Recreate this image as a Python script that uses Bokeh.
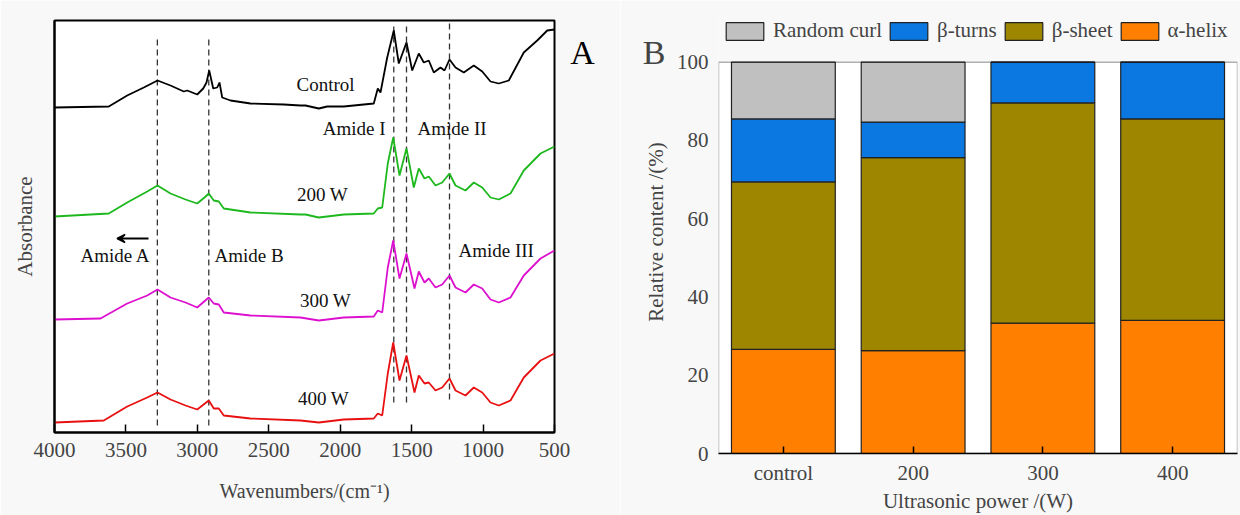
from bokeh.plotting import figure
from bokeh.layouts import row
from bokeh.models import (Range1d, FactorRange, FixedTicker, Label, Arrow, VeeHead,
                          Legend, LegendItem, ColumnDataSource, LinearAxis, BoxAnnotation)
from bokeh.core.properties import value
from bokeh.embed import file_html
from bokeh.resources import INLINE

FONT = "Liberation Serif"

# ---------------- Panel A: FTIR spectra (absorbance in arbitrary units, stacked offsets) ----------
wn_control = [4000, 3620, 3491, 3375, 3279, 3188, 3095, 3071, 3001, 2959, 2936, 2917, 2889, 2861,
              2845, 2826, 2768, 2628, 2395, 2278, 2243, 2150, 2091, 1975, 1765, 1737, 1718, 1671,
              1625, 1590, 1536, 1496, 1450, 1415, 1380, 1345, 1298, 1270, 1235, 1193, 1135, 1065,
              1006, 948, 890, 820, 715, 621, 551, 500]
abs_control = [3.25, 3.26, 3.37, 3.45, 3.52, 3.47, 3.41, 3.42, 3.38, 3.44, 3.50, 3.62, 3.44, 3.45,
               3.50, 3.35, 3.32, 3.29, 3.28, 3.27, 3.27, 3.24, 3.26, 3.26, 3.29, 3.44, 3.40, 3.75,
               4.02, 3.69, 3.90, 3.62, 3.79, 3.70, 3.72, 3.60, 3.65, 3.62, 3.73, 3.65, 3.60, 3.67,
               3.61, 3.51, 3.49, 3.52, 3.80, 3.92, 4.02, 4.03]

wn_200 = [4000, 3620, 3491, 3351, 3279, 3188, 3083, 3001, 2950, 2920, 2885, 2850, 2815, 2628,
          2278, 2243, 2150, 1975, 1765, 1737, 1706, 1667, 1629, 1585, 1536, 1485, 1450, 1410,
          1380, 1333, 1286, 1235, 1193, 1123, 1065, 1006, 948, 890, 808, 715, 598, 500]
abs_200 = [2.16, 2.19, 2.30, 2.41, 2.47, 2.39, 2.33, 2.29, 2.35, 2.39, 2.32, 2.31, 2.24, 2.20,
           2.18, 2.18, 2.15, 2.18, 2.19, 2.24, 2.25, 2.69, 2.95, 2.57, 2.84, 2.45, 2.64, 2.54,
           2.56, 2.47, 2.50, 2.59, 2.47, 2.42, 2.50, 2.45, 2.35, 2.33, 2.39, 2.62, 2.79, 2.86]

wn_300 = [4000, 3678, 3491, 3351, 3279, 3188, 3083, 3001, 2920, 2885, 2850, 2815, 2628, 2278,
          2150, 1975, 1765, 1737, 1706, 1667, 1629, 1585, 1536, 1480, 1450, 1410, 1380, 1333,
          1286, 1235, 1193, 1123, 1065, 1006, 948, 890, 808, 715, 598, 500]
abs_300 = [1.13, 1.14, 1.29, 1.37, 1.43, 1.35, 1.30, 1.25, 1.35, 1.29, 1.28, 1.20, 1.17, 1.15,
           1.12, 1.15, 1.16, 1.22, 1.20, 1.65, 1.92, 1.54, 1.79, 1.44, 1.61, 1.50, 1.54, 1.45,
           1.48, 1.57, 1.45, 1.40, 1.48, 1.44, 1.33, 1.30, 1.35, 1.57, 1.74, 1.82]

wn_400 = [4000, 3655, 3491, 3351, 3279, 3188, 3083, 3001, 2920, 2885, 2850, 2815, 2628, 2278,
          2150, 1975, 1765, 1737, 1706, 1667, 1629, 1585, 1536, 1480, 1450, 1410, 1380, 1333,
          1286, 1235, 1193, 1123, 1065, 1006, 948, 890, 808, 715, 598, 500]
abs_400 = [0.10, 0.12, 0.26, 0.35, 0.40, 0.33, 0.27, 0.23, 0.32, 0.24, 0.24, 0.17, 0.14, 0.12,
           0.10, 0.13, 0.14, 0.19, 0.17, 0.59, 0.90, 0.52, 0.77, 0.40, 0.57, 0.49, 0.50, 0.42,
           0.45, 0.54, 0.42, 0.37, 0.45, 0.40, 0.30, 0.27, 0.32, 0.55, 0.72, 0.79]

# band reference lines (wavenumber, from, to)
band_wn = [3280, 2920, 1625, 1536, 1235]
band_y0 = [0.07, 0.07, 0.30, 0.30, 0.33]
band_y1 = [3.97, 3.97, 4.09, 4.09, 4.09]

# annotation texts
ann_text = ["Control", "200 W", "300 W", "400 W", "Amide I", "Amide II", "Amide III", "Amide A", "Amide B"]
ann_wn = [2103, 2124, 2103, 2117, 1683, 1459, 1172, 3573, 2638]
ann_y = [3.48, 2.38, 1.32, 0.34, 3.04, 3.04, 1.82, 1.77, 1.77]
ann_align = ["center", "center", "center", "center", "right", "left", "left", "center", "center"]

xticks_A = [4000, 3500, 3000, 2500, 2000, 1500, 1000, 500]

# ---------------- Panel B: secondary structure content ----------
powers = ["control", "200", "300", "400"]
alpha_helix = [26.6, 26.3, 33.3, 34.0]
beta_sheet = [42.8, 49.3, 56.3, 51.5]
beta_turns = [16.1, 9.1, 10.4, 14.5]
random_curl = [14.5, 15.3, 0.0, 0.0]
yticks_B = [0, 20, 40, 60, 80, 100]
y_axis_max_B = 100          # plotted box spans 0..100 %
y_view_max_B = 113.2        # extra head-room above the box hosts the legend
letter_y_B = 102.5          # height of the panel letter "B"

BG = "#F8F8F8"

# ======================= Figure A =======================
pA = figure(width=620, height=515, output_backend="svg", toolbar_location=None,
            x_range=Range1d(4000, 500), y_range=Range1d(0, 4.12), frame_align=False,
            min_border_left=54, min_border_right=66, min_border_top=20, min_border_bottom=83)
pA.border_fill_color = BG
pA.background_fill_color = "white"
pA.outline_line_color = "black"
pA.outline_line_width = 2
pA.grid.visible = False

ax = pA.xaxis[0]
ax.ticker = FixedTicker(ticks=xticks_A)
ax.minor_tick_line_color = None
ax.major_tick_in = 8
ax.major_tick_out = 0
ax.major_tick_line_width = 1.5
ax.axis_line_width = 2
ax.major_label_text_font = FONT
ax.major_label_text_font_size = "21px"
ax.major_label_standoff = 10
ax.axis_label = "Wavenumbers/(cm\u207B\u00B9)"
ax.axis_label_text_font = FONT
ax.axis_label_text_font_size = "20px"
ax.axis_label_text_font_style = "normal"
ax.axis_label_standoff = 20

ay = pA.yaxis[0]
ay.ticker = FixedTicker(ticks=[])
ay.minor_tick_line_color = None
ay.major_tick_in = 0
ay.major_tick_out = 0
ay.axis_line_width = 2
ay.axis_label = "Absorbance"
ay.axis_label_text_font = FONT
ay.axis_label_text_font_size = "21px"
ay.axis_label_text_font_style = "normal"
ay.axis_label_standoff = 18

pA.segment(x0=band_wn, y0=band_y0, x1=band_wn, y1=band_y1,
           line_color="#333333", line_width=1.3, line_dash="6 4")

pA.line(wn_control, abs_control, line_color="black", line_width=1.8)
pA.line(wn_200, abs_200, line_color="#1DB81D", line_width=1.8)
pA.line(wn_300, abs_300, line_color="#DD10CF", line_width=1.8)
pA.line(wn_400, abs_400, line_color="#E81010", line_width=1.8)

ann_src = ColumnDataSource(dict(x=ann_wn, y=ann_y, t=ann_text, a=ann_align))
pA.text(x="x", y="y", text="t", text_align="a", source=ann_src, text_baseline="middle",
        text_font=value(FONT), text_font_size="19px", text_color="#111111")

pA.add_layout(Arrow(end=VeeHead(size=8, line_color="black", fill_color="black", line_width=1.5),
                    x_start=3342, y_start=1.94, x_end=3562, y_end=1.94,
                    line_color="black", line_width=2))

# panel letter, in the right side panel (screen units relative to that panel)
pA.add_layout(Label(x=28, y=380, x_units="screen", y_units="screen", text="A",
                    text_font=FONT, text_font_size="34px",
                    text_align="center", text_baseline="middle", text_color="black"), "right")

# ======================= Figure B =======================
pB = figure(width=620, height=515, output_backend="svg", toolbar_location=None,
            x_range=FactorRange(*powers), y_range=Range1d(0, y_view_max_B), frame_align=False,
            min_border_left=98, min_border_right=3, min_border_top=10, min_border_bottom=60)
pB.border_fill_color = BG
pB.background_fill_color = BG
pB.outline_line_color = None
pB.grid.visible = False

# white plotting box (0..100 %) and its black border
pB.add_layout(BoxAnnotation(bottom=0, top=y_axis_max_B, fill_color="white", fill_alpha=1,
                            line_color=None, level="underlay"))

src = ColumnDataSource(dict(p=powers, a=alpha_helix, s=beta_sheet, t=beta_turns, r=random_curl))
colors = ["#FF8000", "#9E8600", "#0A78E0", "#C0C0C0"]
names = ["\u03b1-helix", "\u03b2-sheet", "\u03b2-turns", "Random curl"]
rs = pB.vbar_stack(["a", "s", "t", "r"], x="p", width=0.8, source=src,
                   fill_color=colors, line_color="#222222", line_width=1.2)

pB.add_layout(BoxAnnotation(bottom=0, top=y_axis_max_B, fill_color=None, fill_alpha=0,
                            line_color="black", line_width=1.5))

bx = pB.xaxis[0]
bx.major_tick_in = 7
bx.major_tick_out = 0
bx.major_tick_line_width = 1.5
bx.axis_line_width = 1.5
bx.major_label_text_font = FONT
bx.major_label_text_font_size = "21px"
bx.major_label_standoff = 7
bx.axis_label = "Ultrasonic power /(W)"
bx.axis_label_text_font = FONT
bx.axis_label_text_font_size = "21px"
bx.axis_label_text_font_style = "normal"
bx.axis_label_standoff = 1

by = pB.yaxis[0]
by.ticker = FixedTicker(ticks=yticks_B)
by.minor_tick_line_color = None
by.major_tick_in = 0
by.major_tick_out = 0
by.axis_line_color = None
by.major_label_text_font = FONT
by.major_label_text_font_size = "21px"
by.major_label_standoff = 10
by.axis_label = "Relative content /(%)"
by.axis_label_text_font = FONT
by.axis_label_text_font_size = "21px"
by.axis_label_text_font_style = "normal"
by.axis_label_standoff = 6

# panel letter "B" as the single label of an extra, line-less axis on the left
letter_axis = LinearAxis(ticker=FixedTicker(ticks=[letter_y_B]),
                         major_label_overrides={letter_y_B: "B"},
                         major_label_text_font=FONT, major_label_text_font_size="34px",
                         major_label_standoff=-31,
                         axis_line_color=None, major_tick_line_color=None,
                         minor_tick_line_color=None)
pB.add_layout(letter_axis, "left")

items = [LegendItem(label=names[i], renderers=[rs[i]]) for i in [3, 2, 1, 0]]
legend = Legend(items=items, orientation="horizontal", location=(3, 410),
                glyph_width=47, glyph_height=22, label_standoff=5, spacing=3,
                padding=0, margin=0, border_line_color=None, background_fill_alpha=0,
                label_text_font=FONT, label_text_font_size="21px", label_height=22)
pB.add_layout(legend, "center")

layout = row(pA, pB)
open("out.html", "w").write(file_html(layout, INLINE))
